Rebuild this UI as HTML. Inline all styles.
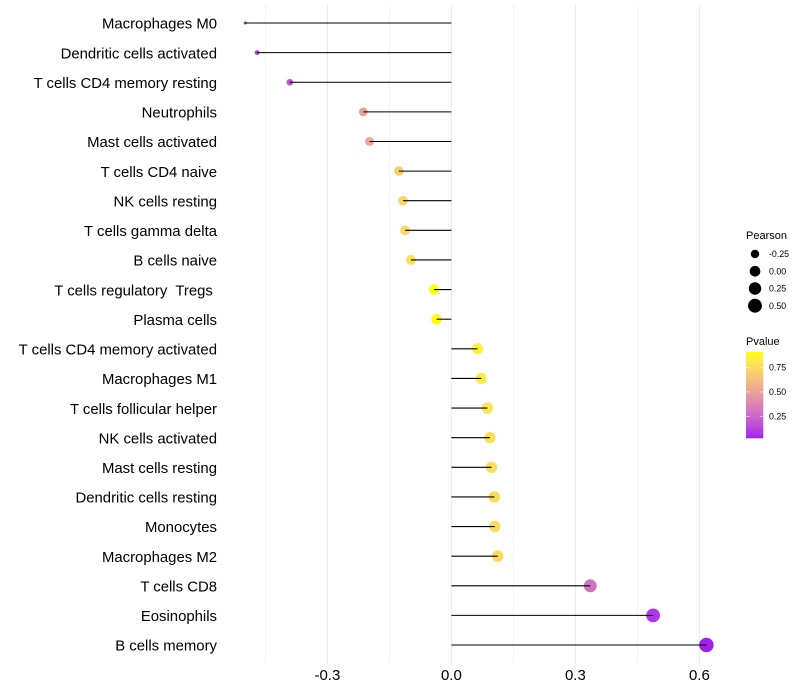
<!DOCTYPE html>
<html lang="en">
<head>
<meta charset="utf-8">
<title>Immune cell correlation lollipop chart</title>
<style>
  html, body { margin: 0; padding: 0; background: #fff; }
  #chart { display: block; width: 800px; height: 700px; font-family: "Liberation Sans", sans-serif; }
  text { white-space: pre; }
</style>
</head>
<body>
<svg id="chart" xmlns="http://www.w3.org/2000/svg" width="800" height="700" viewBox="0 0 800 700"></svg>
<script>
const categories = ["Macrophages M0","Dendritic cells activated","T cells CD4 memory resting","Neutrophils","Mast cells activated","T cells CD4 naive","NK cells resting","T cells gamma delta","B cells naive","T cells regulatory  Tregs ","Plasma cells","T cells CD4 memory activated","Macrophages M1","T cells follicular helper","NK cells activated","Mast cells resting","Dendritic cells resting","Monocytes","Macrophages M2","T cells CD8","Eosinophils","B cells memory"];
const pearsonValues = [-0.499,-0.470,-0.391,-0.213,-0.198,-0.127,-0.117,-0.112,-0.098,-0.042,-0.036,0.063,0.072,0.087,0.093,0.097,0.104,0.105,0.112,0.336,0.488,0.617];
const pValues = [0.06,0.10,0.17,0.50,0.53,0.71,0.73,0.74,0.77,0.90,0.905,0.84,0.82,0.79,0.78,0.77,0.76,0.755,0.74,0.30,0.09,0.03];
const majorTicks = [-0.3,0,0.3,0.6];
const majorTickLabels = ["-0.3","0.0","0.3","0.6"];
const minorTicks = [-0.45,-0.15,0.15,0.45];
const sizeLegendValues = [-0.25,0,0.25,0.5];
const sizeLegendLabels = ["-0.25","0.00","0.25","0.50"];
const colorLegendValues = [0.75,0.5,0.25];
const colorLegendLabels = ["0.75","0.50","0.25"];

const NS = "http://www.w3.org/2000/svg";
const svg = document.getElementById("chart");

function make(tag, attrs, parent) {
  const el = document.createElementNS(NS, tag);
  for (const k in attrs) el.setAttribute(k, attrs[k]);
  (parent || svg).appendChild(el);
  return el;
}

/* axis functions */
const xAxis = v => 451.4 + v * 413.3;
const yAxis = i => 23 + i * 29.62;
const PANEL_TOP = 5, PANEL_BOTTOM = 663;

/* size scale: area palette over the Pearson domain */
const pearsonMin = Math.min(...pearsonValues), pearsonMax = Math.max(...pearsonValues);
function diameter(v) {
  const t = Math.max(0, (v - pearsonMin) / (pearsonMax - pearsonMin));
  return 3 + Math.sqrt(t) * 11.5;
}

/* colour scale: Lab interpolation purple to yellow */
function toLab(c) {
  const f = u => { u /= 255; return u > 0.04045 ? Math.pow((u + 0.055) / 1.055, 2.4) : u / 12.92; };
  const r = f(c[0]), g = f(c[1]), b = f(c[2]);
  const X = (0.4124 * r + 0.3576 * g + 0.1805 * b) / 0.95047;
  const Y = 0.2126 * r + 0.7152 * g + 0.0722 * b;
  const Z = (0.0193 * r + 0.1192 * g + 0.9505 * b) / 1.08883;
  const h = t => t > 0.008856 ? Math.cbrt(t) : 7.787 * t + 16 / 116;
  return [116 * h(Y) - 16, 500 * (h(X) - h(Y)), 200 * (h(Y) - h(Z))];
}
function fromLab(l) {
  const fy = (l[0] + 16) / 116, fx = fy + l[1] / 500, fz = fy - l[2] / 200;
  const h = t => t * t * t > 0.008856 ? t * t * t : (t - 16 / 116) / 7.787;
  const X = h(fx) * 0.95047, Y = h(fy), Z = h(fz) * 1.08883;
  const lin = [3.2406 * X - 1.5372 * Y - 0.4986 * Z, -0.9689 * X + 1.8758 * Y + 0.0415 * Z, 0.0557 * X - 0.204 * Y + 1.057 * Z];
  const g = u => { u = Math.max(0, Math.min(1, u)); return Math.round(255 * (u > 0.0031308 ? 1.055 * Math.pow(u, 1 / 2.4) - 0.055 : 12.92 * u)); };
  return "rgb(" + lin.map(g).join(",") + ")";
}
const LOW_LAB = toLab([160, 32, 240]), HIGH_LAB = toLab([255, 255, 0]);
const P_MIN = 0.03, P_MAX = 0.905;
function labMix(t) {
  return fromLab(LOW_LAB.map((v, i) => v + (HIGH_LAB[i] - v) * t));
}
const colorOf = p => labMix(Math.max(0, Math.min(1, (p - P_MIN) / (P_MAX - P_MIN))));

/* gridlines */
const grid = make("g", {});


minorTicks.forEach(v => {
  const l = make("line", { x1: xAxis(v), x2: xAxis(v), y1: PANEL_TOP, y2: PANEL_BOTTOM, stroke: "#ebebeb", "stroke-width": 0.55 }, grid);
  
  
});
majorTicks.forEach(v => {
  const l = make("line", { x1: xAxis(v), x2: xAxis(v), y1: PANEL_TOP, y2: PANEL_BOTTOM, stroke: "#ebebeb", "stroke-width": 1.07 }, grid);
  
  
});

/* points */
const points = make("g", {});


pearsonValues.forEach((v, i) => {
  const c = make("circle", { cx: xAxis(v), cy: yAxis(i), r: diameter(v) / 2, fill: colorOf(pValues[i]) }, points);
  
  
});

/* segments */
const segments = make("g", {});


pearsonValues.forEach((v, i) => {
  const l = make("line", { x1: xAxis(0), x2: xAxis(v), y1: yAxis(i), y2: yAxis(i), stroke: "#000", "stroke-width": 1.07 }, segments);
  
  
});

/* y axis labels */
const yLabels = make("g", { "font-size": "14.9", fill: "#000", "text-anchor": "end" });


categories.forEach((name, i) => {
  const t = make("text", { x: 217, y: yAxis(i) + 5.7 }, yLabels);
  
  
  t.textContent = name;
});

/* x axis labels */
const xLabels = make("g", { "font-size": "15", fill: "#000", "text-anchor": "middle" });


majorTicks.forEach((v, i) => {
  const t = make("text", { x: xAxis(v), y: 680 }, xLabels);
  
  
  t.textContent = majorTickLabels[i];
});

/* size legend */
const sizeLegend = make("g", {});


const sizeTitle = make("text", { x: 746, y: 239, "font-size": "11", fill: "#000" }, sizeLegend);


sizeTitle.textContent = "Pearson";
sizeLegendValues.forEach((v, i) => {
  const cy = 254 + i * 17.25;
  const c = make("circle", { cx: 755, cy: cy, r: diameter(v) / 2, fill: "#000" }, sizeLegend);
  
  
  const t = make("text", { x: 769, y: cy + 3.1, "font-size": "8.8", fill: "#000" }, sizeLegend);
  
  
  t.textContent = sizeLegendLabels[i];
});

/* colour legend */
const colorLegend = make("g", {});


const colorTitle = make("text", { x: 746, y: 345, "font-size": "11", fill: "#000" }, colorLegend);


colorTitle.textContent = "Pvalue";
const defs = make("defs", {});
const grad = make("linearGradient", { id: "pvalue-gradient", x1: 0, y1: 1, x2: 0, y2: 0 }, defs);
for (let s = 0; s <= 20; s++) {
  make("stop", { offset: s / 20, "stop-color": labMix(s / 20) }, grad);
}
const BAR_TOP = 352, BAR_BOTTOM = 438.3, BAR_LEFT = 746, BAR_RIGHT = 763.3;
const bar = make("rect", { x: BAR_LEFT, y: BAR_TOP, width: BAR_RIGHT - BAR_LEFT, height: BAR_BOTTOM - BAR_TOP, fill: "url(#pvalue-gradient)" }, colorLegend);


const legendY = p => BAR_BOTTOM - (p - P_MIN) / (P_MAX - P_MIN) * (BAR_BOTTOM - BAR_TOP);
colorLegendValues.forEach((p, i) => {
  const y = legendY(p);
  [[BAR_LEFT, BAR_LEFT + 3.5], [BAR_RIGHT - 3.5, BAR_RIGHT]].forEach(xs => {
    const l = make("line", { x1: xs[0], x2: xs[1], y1: y, y2: y, stroke: "#fff", "stroke-width": 0.55 }, colorLegend);
    
    
  });
  const t = make("text", { x: 769, y: y + 3.1, "font-size": "8.8", fill: "#000" }, colorLegend);
  
  
  t.textContent = colorLegendLabels[i];
});
</script>
</body>
</html>
